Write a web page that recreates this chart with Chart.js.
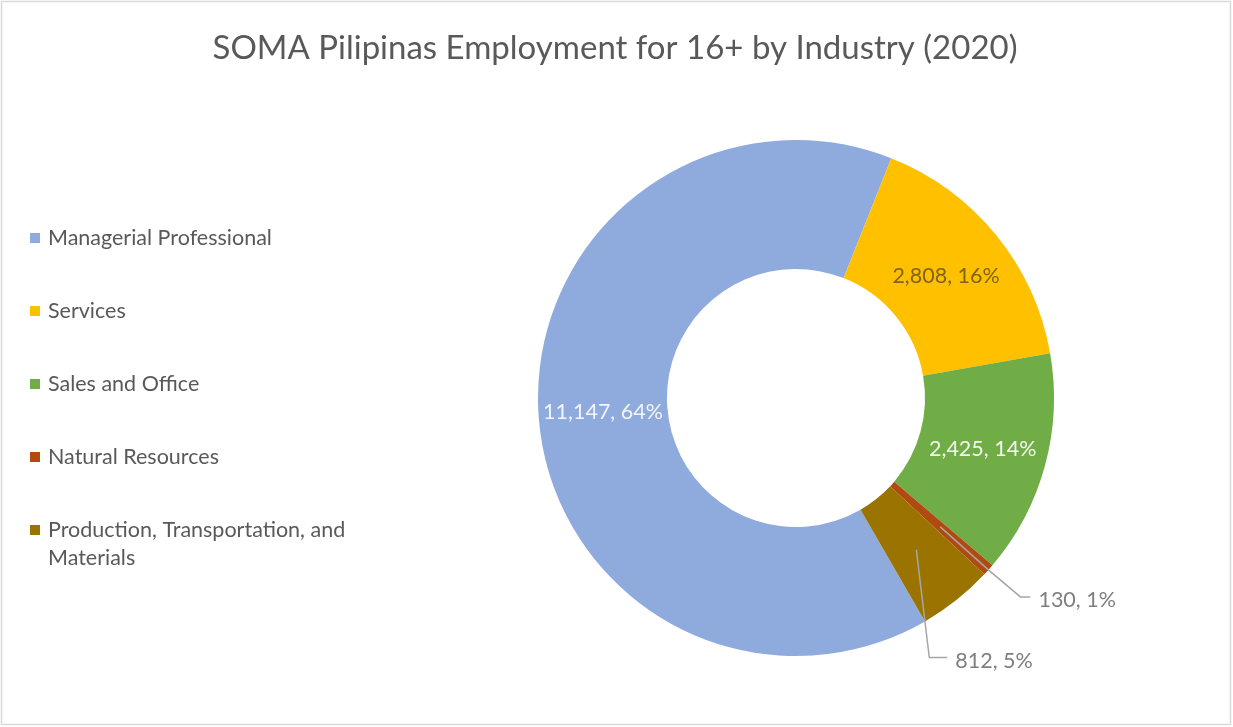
<!DOCTYPE html>
<html>
<head>
<meta charset="utf-8">
<script src="https://cdn.jsdelivr.net/npm/chart.js@4.4.1/dist/chart.umd.min.js"></script>
<style>
  html, body { margin: 0; padding: 0; background: #fff; }
  #wrap { width: 1233px; height: 727px; position: relative; }
</style>
</head>
<body>
<div id="wrap"><canvas id="chart" width="1233" height="727"></canvas></div>
<script>
const chartTitle = 'SOMA Pilipinas Employment for 16+ by Industry (2020)';
const categories = [
  'Managerial Professional',
  'Services',
  'Sales and Office',
  'Natural Resources',
  'Production, Transportation, and Materials'
];
const employment = [11147, 2808, 2425, 130, 812];
const sliceColors = ['#8FAADC', '#FFC000', '#70AD47', '#B04A10', '#9A7300'];
const labelColors = ['#F2F5FB', '#7F6418', '#F2F7EE', '#7F7F7F', '#7F7F7F'];

const FONT = 'Lato, "Open Sans", sans-serif';

// where the small slices put their labels (Excel callouts)
const callouts = {
  3: { elbow: [32, 27], tail: 10, fromOuter: true },
  4: { elbow: [13, 108], tail: 18, fromOuter: false }
};

function wrapLegend(text) {
  if (text.length < 32) return [text];
  const cut = text.lastIndexOf(' ', 32);
  return [text.slice(0, cut), text.slice(cut + 1)];
}

const decorPlugin = {
  id: 'decor',
  afterDraw(chart) {
    const ctx = chart.ctx;
    const meta = chart.getDatasetMeta(0);
    const data = chart.data.datasets[0].data;
    const total = data.reduce((a, b) => a + b, 0);

    ctx.save();
    // frame
    ctx.strokeStyle = '#D9D9D9';
    ctx.lineWidth = 1.5;
    ctx.strokeRect(1.5, 1.5, chart.width - 4, chart.height - 4);

    // title
    ctx.fillStyle = '#595959';
    ctx.font = '33px ' + FONT;
    ctx.textAlign = 'center';
    ctx.textBaseline = 'middle';
    ctx.fillText(chartTitle, 615, 48);

    // legend
    ctx.font = '21.5px ' + FONT;
    ctx.textAlign = 'left';
    chart.data.labels.forEach((lab, i) => {
      const y = 238 + i * 73;
      ctx.fillStyle = sliceColors[i];
      ctx.fillRect(30, y - 5, 10, 10);
      ctx.fillStyle = '#595959';
      wrapLegend(lab).forEach((line, k) => {
        ctx.fillText(line, 48, y + k * 28);
      });
    });

    // data labels
    meta.data.forEach((arc, i) => {
      const v = data[i];
      const txt = v.toLocaleString('en-US') + ', ' + Math.round(v / total * 100) + '%';
      const c = arc.getCenterPoint();
      ctx.font = '21.5px ' + FONT;
      ctx.textBaseline = 'middle';
      const co = callouts[i];
      if (!co) {
        ctx.fillStyle = labelColors[i];
        ctx.textAlign = 'center';
        ctx.fillText(txt, c.x, c.y);
        return;
      }
      const mid = (arc.startAngle + arc.endAngle) / 2;
      const outer = { x: arc.x + Math.cos(mid) * arc.outerRadius, y: arc.y + Math.sin(mid) * arc.outerRadius };
      const base = co.fromOuter ? outer : c;
      const elbow = { x: base.x + co.elbow[0], y: base.y + co.elbow[1] };
      ctx.strokeStyle = '#A6A6A6';
      ctx.lineWidth = 1.5;
      ctx.beginPath();
      ctx.moveTo(c.x, c.y);
      if (co.fromOuter) ctx.lineTo(outer.x, outer.y);
      ctx.lineTo(elbow.x, elbow.y);
      ctx.lineTo(elbow.x + co.tail, elbow.y);
      ctx.stroke();
      ctx.fillStyle = labelColors[i];
      ctx.textAlign = 'left';
      ctx.fillText(txt, elbow.x + co.tail + 8, elbow.y + 3);
    });
    ctx.restore();
  }
};

new Chart(document.getElementById('chart'), {
  type: 'doughnut',
  data: {
    labels: categories,
    datasets: [{
      data: employment,
      backgroundColor: sliceColors,
      borderWidth: 0
    }]
  },
  options: {
    responsive: false,
    animation: false,
    rotation: 150,
    cutout: '50%',
    layout: { padding: { left: 538, right: 179, top: 140, bottom: 71 } },
    plugins: {
      legend: { display: false },
      title: { display: false },
      tooltip: { enabled: false }
    }
  },
  plugins: [decorPlugin]
});
</script>
</body>
</html>
